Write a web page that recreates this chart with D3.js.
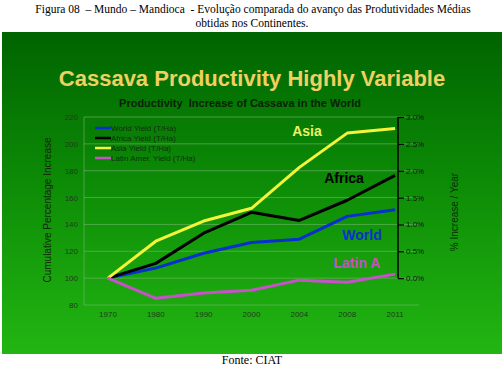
<!DOCTYPE html>
<html>
<head>
<meta charset="utf-8">
<script src="https://cdn.jsdelivr.net/npm/d3@7"></script>
<style>
  body { margin: 0; background: #fff; }
  svg { display: block; }
</style>
</head>
<body>
<svg id="canvas"></svg>
<script>
// Canvas size
var canvasWidth = 504;
var canvasHeight = 374;

// Data
var years = ['1970', '1980', '1990', '2000', '2004', '2008', '2011'];
var worldYield = [100, 107.5, 118.5, 126.5, 129, 146, 151];
var africaYield = [100, 111, 133.5, 149, 143, 158, 176.5];
var asiaYield = [100, 127.5, 142.5, 152, 182.5, 208, 211.5];
var latinYield = [100, 85, 89, 91, 98.5, 97, 103];
var leftTicks = [80, 100, 120, 140, 160, 180, 200, 220];
var rightTicks = [0, 0.5, 1, 1.5, 2, 2.5, 3];

var series = [
  { name: 'World Yield (T/Ha)', label: 'World', values: worldYield, color: '#0a2fd0', lx: 362, ly: 240 },
  { name: 'Africa Yield (T/Ha)', label: 'Africa', values: africaYield, color: '#000000', lx: 344, ly: 183 },
  { name: 'Asia Yield (T/Ha)', label: 'Asia', values: asiaYield, color: '#f4f43a', lx: 307, ly: 136 },
  { name: 'Latin Amer. Yield (T/Ha)', label: 'Latin A', values: latinYield, color: '#c850c8', lx: 357, ly: 268 }
];

var svg = d3.select('#canvas')
  .attr('width', canvasWidth)
  .attr('height', canvasHeight);

// Caption
var caption = svg.append('g')
  .attr('font-family', 'Liberation Serif, Times New Roman, serif')
  .attr('font-size', 11.5)
  .attr('fill', '#000')
  .attr('text-anchor', 'middle');

caption.append('text')
  .attr('x', 253)
  .attr('y', 13)
  .attr('xml:space', 'preserve')
  .text('Figura 08  \u2013 Mundo \u2013 Mandioca  - Evolução comparada do avanço das Produtividades Médias');

caption.append('text')
  .attr('x', 252)
  .attr('y', 27)
  .text('obtidas nos Continentes.');

caption.append('text')
  .attr('x', 252)
  .attr('y', 364)
  .attr('font-size', 12)
  .text('Fonte: CIAT');

// Green background
var defs = svg.append('defs');
var grad = defs.append('linearGradient')
  .attr('id', 'bg')
  .attr('x1', 0).attr('y1', 0)
  .attr('x2', 0).attr('y2', 1);
grad.append('stop').attr('offset', '0%').attr('stop-color', '#006400');
grad.append('stop').attr('offset', '45%').attr('stop-color', '#0c8a06');
grad.append('stop').attr('offset', '100%').attr('stop-color', '#22b612');

svg.append('rect')
  .attr('x', 2)
  .attr('y', 32)
  .attr('width', 500)
  .attr('height', 322)
  .attr('fill', 'url(#bg)');

// Titles
svg.append('text')
  .attr('x', 252)
  .attr('y', 86)
  .attr('text-anchor', 'middle')
  .attr('font-family', 'Liberation Sans, Arial, sans-serif')
  .attr('font-weight', 'bold')
  .attr('font-size', 22)
  .attr('fill', '#f0d060')
  .text('Cassava Productivity Highly Variable');

svg.append('text')
  .attr('x', 240)
  .attr('y', 107)
  .attr('text-anchor', 'middle')
  .attr('font-family', 'Liberation Sans, Arial, sans-serif')
  .attr('font-weight', 'bold')
  .attr('font-size', 11)
  .attr('fill', '#0a2208')
  .attr('xml:space', 'preserve')
  .text('Productivity  Increase of Cassava in the World');

// Scales
var xScale = d3.scaleBand()
  .domain(years)
  .range([84, 419]);

var yScale = d3.scaleLinear()
  .domain([80, 220])
  .range([305, 117]);

// right axis: 0% = 100, 3% = 220
var rScale = d3.scaleLinear()
  .domain([0, 3])
  .range([yScale(100), yScale(220)]);

function xPos(i) {
  return xScale(years[i]) + xScale.bandwidth() / 2;
}

// Gridlines
svg.append('g')
  .selectAll('line')
  .data(leftTicks)
  .enter()
  .append('line')
  .attr('x1', 84)
  .attr('x2', 419)
  .attr('y1', function(d) { return yScale(d); })
  .attr('y2', function(d) { return yScale(d); })
  .attr('stroke', '#7fb87a')
  .attr('stroke-opacity', 0.7)
  .attr('stroke-width', 0.8);

svg.append('line')
  .attr('x1', 84).attr('x2', 84)
  .attr('y1', yScale(220)).attr('y2', yScale(80))
  .attr('stroke', '#7fb87a')
  .attr('stroke-opacity', 0.7)
  .attr('stroke-width', 0.8);

// Left axis
var yAxis = d3.axisLeft(yScale)
  .tickValues(leftTicks)
  .tickSize(0)
  .tickPadding(6);

var gy = svg.append('g')
  .attr('transform', 'translate(84,0)')
  .call(yAxis);
gy.select('.domain').remove();
gy.selectAll('text')
  .attr('font-family', 'Liberation Sans, Arial, sans-serif')
  .attr('font-size', 8)
  .attr('fill', '#1e3e1a');

// X axis
var xAxis = d3.axisBottom(xScale).tickSize(0).tickPadding(6);
var gx = svg.append('g')
  .attr('transform', 'translate(0,305)')
  .call(xAxis);
gx.select('.domain').remove();
gx.selectAll('text')
  .attr('font-family', 'Liberation Sans, Arial, sans-serif')
  .attr('font-size', 8)
  .attr('fill', '#1e3e1a');

// Right axis
var rAxis = d3.axisRight(rScale)
  .tickValues(rightTicks)
  .tickSize(6)
  .tickPadding(2)
  .tickFormat(function(d) { return d.toFixed(1) + '%'; });

var gr = svg.append('g')
  .attr('transform', 'translate(398,0)')
  .call(rAxis);
gr.select('.domain')
  .attr('stroke', '#000')
  .attr('stroke-width', 1.5)
  .attr('d', 'M0,' + rScale(3) + 'V' + rScale(0));
gr.selectAll('.tick line').attr('stroke', '#000').attr('stroke-width', 1.2);
gr.selectAll('text')
  .attr('font-family', 'Liberation Sans, Arial, sans-serif')
  .attr('font-size', 8)
  .attr('fill', '#0a200a');

// Axis titles
svg.append('text')
  .attr('transform', 'translate(51,210) rotate(-90)')
  .attr('text-anchor', 'middle')
  .attr('font-family', 'Liberation Sans, Arial, sans-serif')
  .attr('font-size', 10)
  .attr('fill', '#0e2a0a')
  .text('Cumulative Percentage Increase');

svg.append('text')
  .attr('transform', 'translate(458,212) rotate(-90)')
  .attr('text-anchor', 'middle')
  .attr('font-family', 'Liberation Sans, Arial, sans-serif')
  .attr('font-size', 10)
  .attr('fill', '#0e2a0a')
  .text('% Increase / Year');

// Lines
var line = d3.line()
  .x(function(d, i) { return xPos(i); })
  .y(function(d) { return yScale(d); });

svg.append('g')
  .selectAll('path')
  .data(series)
  .enter()
  .append('path')
  .attr('d', function(d) { return line(d.values); })
  .attr('fill', 'none')
  .attr('stroke', function(d) { return d.color; })
  .attr('stroke-width', 3)
  .attr('stroke-linejoin', 'round');

// Legend
var legend = svg.append('g')
  .selectAll('g')
  .data(series)
  .enter()
  .append('g')
  .attr('transform', function(d, i) { return 'translate(95,' + (128 + i * 10) + ')'; });

legend.append('line')
  .attr('x1', 0).attr('x2', 16)
  .attr('stroke', function(d) { return d.color; })
  .attr('stroke-width', 2.5);

legend.append('text')
  .attr('x', 16)
  .attr('y', 2.8)
  .attr('font-family', 'Liberation Sans, Arial, sans-serif')
  .attr('font-size', 8)
  .attr('fill', '#123010')
  .text(function(d) { return d.name; });

// Series labels
svg.append('g')
  .selectAll('text')
  .data(series)
  .enter()
  .append('text')
  .attr('x', function(d) { return d.lx; })
  .attr('y', function(d) { return d.ly; })
  .attr('text-anchor', 'middle')
  .attr('font-family', 'Liberation Sans, Arial, sans-serif')
  .attr('font-weight', 'bold')
  .attr('font-size', 14)
  .attr('fill', function(d) { return d.label === 'Asia' ? '#eef06a' : d.color; })
  .text(function(d) { return d.label; });
</script>
</body>
</html>
